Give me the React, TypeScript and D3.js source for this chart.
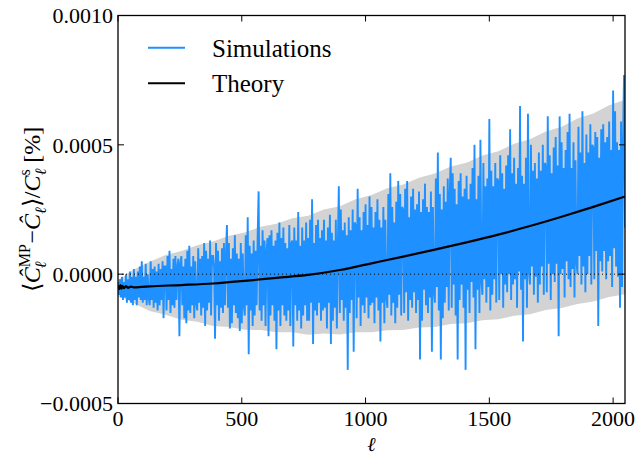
import React from "react";
import * as d3 from "d3";

const width = 637;
const height = 457;
const marginTop = 15.5;
const marginBottom = 53.5;
const marginLeft = 118;
const marginRight = 12;

// all series values are in units of 1e-5
const UNIT = 1e-5;

// simulations, sampled every 4 in ell starting at 0 (one row = 64 in ell)
const simStep = 4;
const simulations = [
  -3, -8, -2, -9, -1, -10, -3, -9, 0, -11, -2, -10, 1, -11, -1, -12,
  2, -10, -1, -12, 1, -9, 3, -10, 5, -11, -1, -10, 4, -12, 0, -9,
  -12, 5, -10, 2, -13, 3, -11, 1, -14, 4, -12, 2, -10, 5, -17, 3,
  3, -14, 7, -10, 9, -15, 2, -12, 6, -13, 7, -10, 3, 6, -24, 4,
  7, -12, 3, -17, 6, -19, 9, -14, 11, -15, 3, -12, 7, -17, 5, -11,
  -14, 10, -11, 6, -16, 7, -13, 12, -20, 9, -14, 6, -11, 13, -16, 7,
  7, 3, -25, 12, -12, 9, -18, 5, -13, 10, -15, 12, -12, 7, 19, -13,
  12, -21, 6, -19, 10, -12, 15, -15, 8, -17, 6, -22, 12, -19, 8, -12,
  -16, 15, -12, 22, -31, 11, -14, 8, -20, 13, -16, 9, -12, 14, 32, -14,
  11, -18, 17, -12, 13, -20, 9, 14, -24, 15, -16, 17, -12, 11, -18, 13,
  -29, 16, -14, 20, -20, 14, -12, 18, -16, 12, -18, 10, -14, 19, -20, 12,
  13, -28, 18, -12, 13, -18, 24, -14, 11, -21, 18, -16, 13, -12, 20, -18,
  14, -18, 21, -11, 29, -27, 12, -14, 19, -16, 21, -11, 14, -18, 17, -14,
  21, -13, 13, -21, 18, -11, 23, -27, 16, -18, 13, -13, 21, -21, 10, 34,
  -15, 25, -10, 17, -18, 20, -13, 15, -37, 22, -15, 17, -10, 25, -30, 20,
  19, -17, 33, -9, 22, -20, 17, -12, 24, -15, 27, -9, 19, -17, 30, -12,
  26, -11, 18, -19, 24, -9, 29, -14, 21, -26, 18, -11, 26, -19, 21, -9,
  -13, 31, -8, 39, -16, 26, -11, 20, -19, 28, -13, 36, -8, 31, -16, 26,
  25, -15, 33, -7, 36, -18, 22, -10, 30, -13, 33, -7, 25, -15, 27, -10,
  32, -33, 24, -18, 29, -6, 35, -12, 26, -15, 24, -9, 32, -30, 26, -6,
  -11, 37, -5, 47, -14, 31, -33, 25, -17, 34, -11, 28, -5, 37, -14, 31,
  45, -13, 39, -4, 33, -16, 27, -33, 36, -10, 39, -4, 30, -13, 33, -37,
  38, -6, 29, -15, 35, -3, 41, -9, 50, -29, 29, -6, 38, -15, 52, -3,
  -8, 43, -2, 34, -11, 37, -5, 60, -14, 40, -8, 34, -2, 43, -11, 37,
  36, -10, 46, 0, 39, -13, 33, -4, 42, -7, 46, 0, 56, -10, 39, -4,
  45, -2, 35, -13, 41, 1, 65, -6, 38, -26, 35, -2, 45, -13, 62, 1,
  -4, 50, 3, 40, -8, 43, -1, 37, -11, 47, -4, 40, 3, 50, -8, 43,
  42, -7, 61, 4, 46, -10, 39, 0, 49, -3, 53, 4, 42, -24, 61, 0,
  51, 2, 41, -9, 48, 5, 55, -2, 62, -5, 41, 2, 51, -9, 44, 5,
  0, 57, 7, 47, -4, 63, 3, 43, -7, 54, 0, 47, 7, 58, -4, 50,
  49, -2, 55, 9, 53, -20, 45, 5, 56, 1, 58, 9, 51, -2, 53, 5,
  59, 7, 48, -5, 71, 10, 63, 3, 51, -1, 48, -13, 59, -5, 51, 77,
  18,
];

const theoryEll = [2, 6, 10, 14, 18, 24, 32, 40, 52, 64, 96, 128, 256, 384, 512, 640, 768, 896, 1024, 1152, 1280, 1408, 1536, 1664, 1792, 1920, 2048];
const theory = [-4.3, -5.8, -4.2, -5.6, -4.5, -5.4, -4.6, -5.3, -4.8, -5.1, -4.9, -4.7, -4.2, -3.6, -2.6, -1.4, -0.3, 1.6, 4.2, 6.8, 9.5, 12.3, 15.3, 18.6, 22.2, 26.0, 30.0];

const bandEll = [2, 16, 32, 64, 128, 192, 256, 320, 384, 448, 512, 576, 640, 704, 768, 832, 896, 960, 1024, 1088, 1152, 1216, 1280, 1344, 1408, 1472, 1536, 1600, 1664, 1728, 1792, 1856, 1920, 1984, 2048];
const bandUpper = [-2, -1.5, -0.2, 1.8, 4.8, 7.4, 9.0, 11.2, 12.6, 14.9, 16.1, 18.3, 19.5, 21.6, 22.6, 25.0, 26.3, 29.0, 30.6, 33.2, 34.7, 37.3, 38.9, 41.6, 43.1, 45.9, 47.5, 50.4, 52.2, 55.2, 57.0, 60.2, 62.1, 65.3, 67.4];
const bandLower = [-9, -8.5, -9.8, -11.2, -14.2, -15.7, -17.6, -18.4, -20.0, -20.4, -21.5, -21.6, -22.5, -22.5, -23.4, -22.9, -23.3, -22.5, -22.5, -21.7, -21.6, -20.6, -20.4, -19.3, -19.0, -17.8, -17.4, -16.1, -15.5, -13.9, -13.1, -11.5, -10.6, -8.8, -7.8];

const xTicks = [0, 500, 1000, 1500, 2000];
const yTicks = [-0.0005, 0, 0.0005, 0.001];

const serif = "Liberation Serif, Times New Roman, Times, serif";
const blue = "#1e90ff";

const App = () => {
  const x = d3.scaleLinear().domain([0, 2048]).range([marginLeft, width - marginRight]);
  const y = d3.scaleLinear().domain([-0.0005, 0.001]).range([height - marginBottom, marginTop]);
  const left = marginLeft;
  const right = width - marginRight;
  const top = marginTop;
  const bottom = height - marginBottom;

  const band = d3
    .area<number>()
    .x((_, i) => x(bandEll[i]))
    .y0((_, i) => y(bandLower[i] * UNIT))
    .y1((d) => y(d * UNIT))(bandUpper);

  const simLine = d3
    .line<number>()
    .x((_, i) => x(i * simStep))
    .y((d) => y(d * UNIT))(simulations);

  const theoryLine = d3
    .line<number>()
    .x((_, i) => x(theoryEll[i]))
    .y((d) => y(d * UNIT))
    .curve(d3.curveMonotoneX)(theory);

  const fmt = d3.format(".4f");
  const tickLen = 6;

  return (
    <div style={{ position: "fixed", left: 0, top: 0 }}>
      <svg width={width} height={height} viewBox={`0 0 ${width} ${height}`} style={{ display: "block", background: "#fff" }}>
        <defs>
          <clipPath id="plot">
            <rect x={left} y={top} width={right - left} height={bottom - top} />
          </clipPath>
        </defs>
        <g clipPath="url(#plot)">
          <path d={band ?? ""} fill="#d3d3d3" />
          <path d={simLine ?? ""} fill="none" stroke={blue} strokeWidth={1.9} />
          <path d={theoryLine ?? ""} fill="none" stroke="#000" strokeWidth={2.2} />
          <line x1={left} x2={right} y1={y(0)} y2={y(0)} stroke="#000" strokeWidth={1} strokeDasharray="1,3" />
        </g>

        {/* ticks, all inward on four sides */}
        <g stroke="#000" strokeWidth={1}>
          {xTicks.map((t) => (
            <g key={"x" + t}>
              <line x1={x(t)} x2={x(t)} y1={bottom} y2={bottom - tickLen} />
              <line x1={x(t)} x2={x(t)} y1={top} y2={top + tickLen} />
            </g>
          ))}
          {yTicks.map((t) => (
            <g key={"y" + t}>
              <line x1={left} x2={left + tickLen} y1={y(t)} y2={y(t)} />
              <line x1={right} x2={right - tickLen} y1={y(t)} y2={y(t)} />
            </g>
          ))}
        </g>
        <rect x={left} y={top} width={right - left} height={bottom - top} fill="none" stroke="#000" strokeWidth={1.3} />

        <g style={{ fontFamily: serif, fontSize: 22 }} fill="#000">
          {xTicks.map((t) => (
            <text key={"xl" + t} x={x(t)} y={bottom + 22} textAnchor="middle">
              {t}
            </text>
          ))}
          {yTicks.map((t) => (
            <text key={"yl" + t} x={left - 5} y={y(t)} dy="0.35em" textAnchor="end">
              {fmt(t)}
            </text>
          ))}
        </g>

        {/* x label */}
        <text x={(left + right) / 2} y={451} textAnchor="middle" style={{ fontFamily: "DejaVu Serif, serif", fontStyle: "italic", fontSize: 20 }}>
          ℓ
        </text>

        {/* y label */}
        <text transform={`translate(40,${(top + bottom) / 2}) rotate(-90)`} textAnchor="middle" style={{ fontFamily: serif, fontSize: 24 }}>
          <tspan>⟨</tspan>
          <tspan fontStyle="italic">Ĉ</tspan>
          <tspan fontSize={16} dy={-10}>MP</tspan>
          <tspan fontSize={16} fontStyle="italic" dx={-24} dy={16}>ℓ</tspan>
          <tspan dx={18} dy={-6}>−</tspan>
          <tspan fontStyle="italic">Ĉ</tspan>
          <tspan fontSize={16} fontStyle="italic" dy={6}>ℓ</tspan>
          <tspan dy={-6}>⟩/</tspan>
          <tspan fontStyle="italic">C</tspan>
          <tspan fontSize={16} dy={-10}>s</tspan>
          <tspan fontSize={16} fontStyle="italic" dx={-6} dy={16}>ℓ</tspan>
          <tspan dy={-6}> [%]</tspan>
        </text>

        {/* legend */}
        <g style={{ fontFamily: serif, fontSize: 25 }}>
          <line x1={148} x2={185} y1={47.7} y2={47.7} stroke={blue} strokeWidth={2} />
          <text x={212} y={57}>Simulations</text>
          <line x1={148} x2={185} y1={83.3} y2={83.3} stroke="#000" strokeWidth={2} />
          <text x={212} y={92}>Theory</text>
        </g>
      </svg>
    </div>
  );
};

export default App;
